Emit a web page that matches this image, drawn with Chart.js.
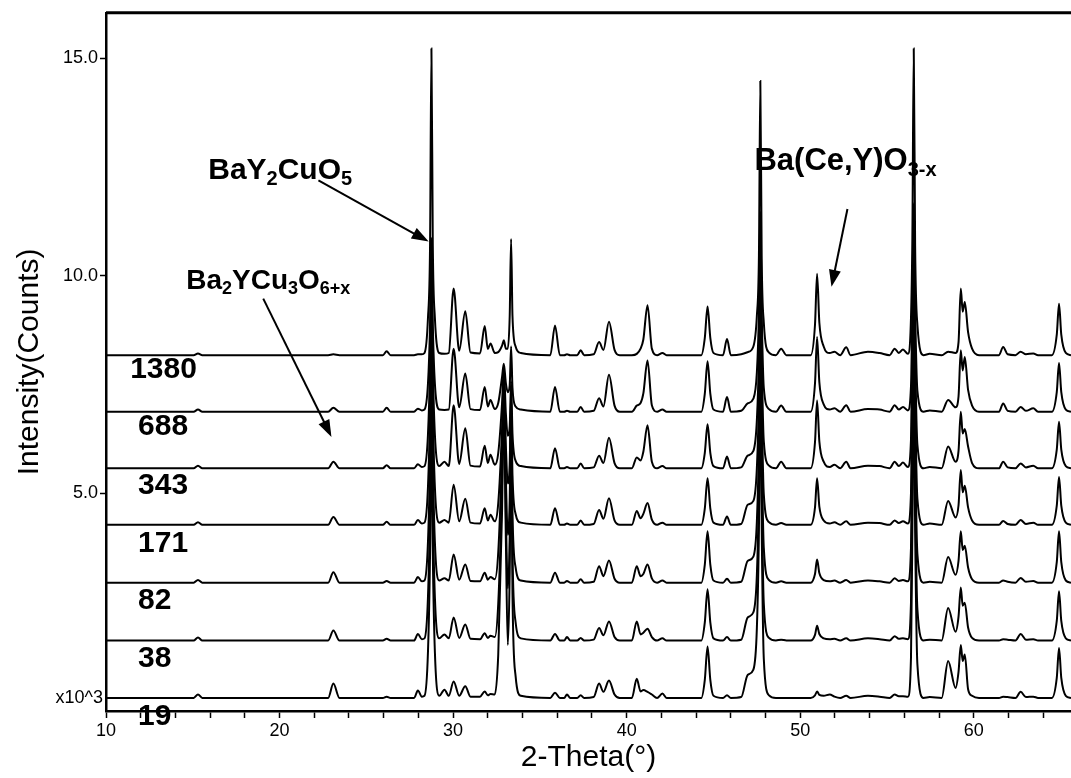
<!DOCTYPE html>
<html>
<head>
<meta charset="utf-8">
<script src="https://cdn.jsdelivr.net/npm/chart.js@4.4.1/dist/chart.umd.min.js"></script>
<style>
  body { margin: 0; background: #fff; }
  #wrap { width: 1071px; height: 778px; }
</style>
</head>
<body>
<div id="wrap"><canvas id="xrd"></canvas></div>
<script>
// 2-theta positions (deg) shared by all scans
const angles = [
  10.0, 15.05, 15.3, 15.55, 22.8, 23.1, 23.45, 25.95, 26.17, 26.4,
  27.75, 27.97, 28.2, 28.35, 28.55, 28.67, 28.75, 28.83, 28.95, 29.2,
  29.5, 29.75, 30.03, 30.35, 30.7, 31.0, 31.55, 31.82, 32.0, 32.15, 32.4,
  32.6, 32.82, 32.92, 33.04, 33.15, 33.26, 33.34, 33.42, 33.6, 33.9,
  35.6, 35.87, 36.15, 36.4, 36.56, 36.75, 37.15, 37.35, 37.55, 38.1,
  38.41, 38.66, 38.98, 39.3, 39.6, 40.3, 40.58, 40.8, 40.96, 41.2, 41.45, 41.75, 42.06, 42.3,
  44.3, 44.5, 44.66, 44.82, 45.0, 45.55, 45.78, 46.0,
  46.6, 46.97, 47.3, 47.5, 47.62, 47.7, 47.78, 47.9, 48.2, 48.6, 48.9, 49.2,
  50.6, 50.85, 50.97, 51.1, 51.35, 51.7, 51.97, 52.3, 52.65, 52.9, 53.9, 54.57, 55.15, 55.44, 55.68, 55.92,
  56.2, 56.38, 56.46, 56.54, 56.62, 56.75, 57.1, 57.46,
  58.15, 58.52, 58.95, 59.12, 59.25, 59.36, 59.48, 59.67, 59.9, 60.3,
  61.45, 61.69, 61.95, 62.4, 62.7, 63.0, 63.43, 63.7, 64.5, 64.78, 64.91, 65.04, 65.3, 65.6
];

// intensity above each scan's own baseline (x10^3 counts)
const h19 = [
  0, 0, 0.08, 0, 0, 0.33, 0, 0, 0.03, 0,
  0, 0.17, 0.03, 0.05, 1.05, 3.3, 6.6, 3.3, 1.05, 0.05,
  0.19, 0.05, 0.38, 0.05, 0.27, 0.03, 0.03, 0.15, 0.06, 0.09, 0.08,
  1.0, 4.3, 6.8, 3.6, 1.22, 2.9, 6.4, 2.4, 0.5, 0.05,
  0, 0.12, 0, 0, 0.08, 0, 0, 0.06, 0, 0.02,
  0.33, 0.14, 0.4, 0.08, 0, 0, 0.44, 0.15, 0.18, 0.14, 0.08, 0, 0.1, 0,
  0, 0.41, 1.18, 0.41, 0.05, 0, 0.06, 0,
  0.02, 0.53, 0.65, 1.6, 3.9, 7.8, 3.9, 0.9, 0.06, 0, 0, 0,
  0, 0.06, 0.15, 0.07, 0.05, 0.08, 0.03, 0, 0.05, 0, 0.05, 0.03, 0, 0.08, 0.04, 0.04,
  0.03, 0.92, 3.85, 7.7, 3.85, 0.77, 0, 0.02,
  0, 0.85, 0.23, 0.6, 1.22, 0.85, 1.0, 0.2, 0.05, 0,
  0, 0.03, 0.02, 0, 0.14, 0.02, 0.03, 0, 0, 0.46, 1.15, 0.46, 0.05, 0
];
const h38 = [
  0, 0, 0.07, 0, 0, 0.23, 0, 0, 0.04, 0,
  0, 0.15, 0.03, 0.05, 0.99, 3.1, 6.2, 3.1, 0.99, 0.05,
  0.14, 0.05, 0.53, 0.06, 0.37, 0.04, 0.03, 0.17, 0.06, 0.11, 0.08,
  0.85, 3.6, 5.6, 2.9, 1.2, 2.4, 5.2, 2.0, 0.42, 0.05,
  0, 0.15, 0, 0, 0.08, 0, 0, 0.06, 0, 0.02,
  0.29, 0.12, 0.44, 0.08, 0, 0, 0.44, 0.14, 0.18, 0.27, 0.08, 0, 0.05, 0,
  0, 0.41, 1.18, 0.41, 0.05, 0, 0.08, 0,
  0.02, 0.53, 0.65, 1.5, 3.6, 7.2, 3.6, 0.85, 0.06, 0, 0.02, 0,
  0, 0.13, 0.34, 0.15, 0.05, 0.03, 0.04, 0, 0.05, 0, 0.05, 0.03, 0, 0.1, 0.04, 0.05,
  0.03, 0.86, 3.6, 7.2, 3.6, 0.72, 0, 0.02,
  0, 0.75, 0.2, 0.55, 1.22, 0.8, 0.87, 0.3, 0.06, 0,
  0, 0.03, 0.02, 0, 0.15, 0.02, 0.03, 0, 0, 0.45, 1.13, 0.45, 0.05, 0
];
const h82 = [
  0, 0, 0.06, 0, 0, 0.24, 0, 0, 0.04, 0,
  0, 0.13, 0.03, 0.05, 0.93, 2.9, 5.8, 2.9, 0.93, 0.05,
  0.1, 0.05, 0.65, 0.07, 0.42, 0.04, 0.03, 0.23, 0.07, 0.13, 0.08,
  0.7, 3.0, 4.6, 2.4, 1.1, 1.9, 4.2, 1.6, 0.35, 0.05,
  0, 0.23, 0, 0, 0.04, 0, 0, 0.08, 0, 0.02,
  0.38, 0.15, 0.51, 0.09, 0, 0, 0.38, 0.15, 0.2, 0.42, 0.1, 0, 0.05, 0,
  0, 0.41, 1.18, 0.41, 0.05, 0, 0.09, 0,
  0.02, 0.5, 0.6, 1.4, 3.3, 6.6, 3.3, 0.8, 0.06, 0, 0.03, 0,
  0, 0.2, 0.53, 0.22, 0.06, 0.03, 0.05, 0, 0.06, 0, 0.05, 0.03, 0, 0.1, 0.04, 0.06,
  0.03, 0.79, 3.3, 6.6, 3.3, 0.66, 0, 0.02,
  0, 0.59, 0.18, 0.5, 1.18, 0.75, 0.85, 0.35, 0.08, 0,
  0, 0.05, 0.02, 0, 0.11, 0.02, 0.04, 0, 0, 0.47, 1.18, 0.47, 0.05, 0
];
const h171 = [
  0, 0, 0.06, 0, 0, 0.18, 0, 0, 0.07, 0,
  0, 0.11, 0.03, 0.05, 0.86, 2.7, 5.4, 2.7, 0.86, 0.05,
  0.11, 0.05, 0.92, 0.08, 0.6, 0.05, 0.03, 0.38, 0.1, 0.23, 0.08,
  0.5, 2.2, 3.4, 1.8, 0.95, 1.4, 3.0, 1.15, 0.25, 0.05,
  0, 0.38, 0, 0, 0.03, 0, 0, 0.1, 0, 0.02,
  0.34, 0.14, 0.61, 0.1, 0, 0, 0.32, 0.15, 0.25, 0.5, 0.12, 0, 0.05, 0,
  0, 0.37, 1.07, 0.37, 0.05, 0, 0.19, 0,
  0.02, 0.46, 0.55, 1.3, 3.0, 6.0, 3.0, 0.7, 0.06, 0, 0.04, 0,
  0, 0.4, 1.07, 0.42, 0.1, 0.03, 0.06, 0, 0.08, 0, 0.05, 0.04, 0, 0.1, 0.04, 0.08,
  0.03, 0.72, 3.0, 6.0, 3.0, 0.6, 0, 0.03,
  0, 0.55, 0.17, 0.45, 1.26, 0.75, 0.9, 0.4, 0.1, 0,
  0, 0.09, 0.02, 0, 0.11, 0.02, 0.05, 0, 0, 0.44, 1.1, 0.44, 0.05, 0
];
const h343 = [
  0, 0, 0.06, 0, 0, 0.15, 0, 0, 0.07, 0,
  0, 0.09, 0.03, 0.05, 0.77, 2.4, 4.8, 2.4, 0.77, 0.05,
  0.15, 0.05, 1.45, 0.1, 0.92, 0.06, 0.04, 0.52, 0.12, 0.31, 0.08,
  0.35, 1.5, 2.3, 1.25, 0.75, 0.95, 2.0, 0.8, 0.17, 0.05,
  0, 0.46, 0, 0, 0.03, 0, 0, 0.11, 0, 0.02,
  0.29, 0.12, 0.7, 0.12, 0, 0, 0.25, 0.18, 0.38, 0.99, 0.15, 0, 0.05, 0,
  0, 0.35, 1.01, 0.35, 0.05, 0, 0.27, 0,
  0.02, 0.29, 0.4, 1.1, 2.65, 5.3, 2.65, 0.62, 0.06, 0, 0.15, 0,
  0, 0.6, 1.56, 0.62, 0.15, 0.03, 0.08, 0, 0.15, 0, 0.06, 0.05, 0, 0.15, 0.05, 0.13,
  0.03, 0.65, 2.7, 5.4, 2.7, 0.54, 0, 0.03,
  0, 0.5, 0.15, 0.4, 1.3, 0.8, 0.9, 0.5, 0.12, 0,
  0, 0.15, 0.02, 0, 0.11, 0.02, 0.06, 0, 0, 0.43, 1.07, 0.43, 0.05, 0
];
const h688 = [
  0, 0, 0.05, 0, 0, 0.09, 0, 0, 0.09, 0,
  0, 0.07, 0.03, 0.05, 0.64, 2.0, 4.0, 2.0, 0.64, 0.05,
  0.04, 0.05, 1.45, 0.1, 0.88, 0.06, 0.04, 0.57, 0.12, 0.27, 0.06,
  0.2, 0.8, 1.1, 0.65, 0.45, 0.6, 1.5, 0.55, 0.12, 0.05,
  0, 0.57, 0, 0, 0.02, 0, 0, 0.11, 0, 0.02,
  0.31, 0.12, 0.85, 0.14, 0, 0, 0.14, 0.2, 0.42, 1.18, 0.15, 0, 0.05, 0,
  0, 0.41, 1.16, 0.41, 0.05, 0, 0.34, 0,
  0.02, 0.19, 0.3, 0.9, 2.3, 4.6, 2.3, 0.55, 0.06, 0, 0.14, 0,
  0, 0.65, 1.72, 0.68, 0.17, 0.05, 0.08, 0, 0.15, 0, 0.06, 0.05, 0, 0.15, 0.05, 0.11,
  0.03, 0.58, 2.4, 4.8, 2.4, 0.48, 0, 0.03,
  0, 0.27, 0.1, 0.35, 1.41, 0.95, 1.26, 0.5, 0.14, 0,
  0, 0.19, 0.02, 0, 0.11, 0.02, 0.08, 0, 0, 0.45, 1.12, 0.45, 0.05, 0
];
const h1380 = [
  0, 0, 0.04, 0, 0, 0.02, 0, 0, 0.09, 0,
  0, 0.02, 0.02, 0.05, 0.85, 2.5, 7.05, 2.5, 0.85, 0.05,
  0.03, 0.05, 1.53, 0.1, 1.01, 0.06, 0.04, 0.67, 0.14, 0.27, 0.05,
  0.07, 0.22, 0.34, 0.15, 0.15, 0.9, 2.67, 0.9, 0.2, 0.05,
  0, 0.68, 0, 0, 0.02, 0, 0, 0.11, 0, 0.02,
  0.3, 0.12, 0.77, 0.12, 0, 0, 0.03, 0.15, 0.36, 1.15, 0.15, 0, 0.05, 0,
  0, 0.39, 1.12, 0.39, 0.05, 0, 0.37, 0,
  0.02, 0.07, 0.2, 0.9, 2.3, 6.3, 2.2, 0.75, 0.06, 0, 0.15, 0,
  0, 0.7, 1.87, 0.75, 0.2, 0.05, 0.08, 0, 0.18, 0, 0.08, 0.05, 0, 0.15, 0.05, 0.13,
  0.03, 0.85, 2.7, 7.05, 2.5, 0.7, 0, 0.03,
  0, 0.08, 0.05, 0.3, 1.53, 1.0, 1.22, 0.53, 0.15, 0,
  0, 0.19, 0.02, 0, 0.08, 0.02, 0.04, 0, 0, 0.47, 1.18, 0.47, 0.05, 0
];

const sampleNames = ['19', '38', '82', '171', '343', '688', '1380'];
const offsets = [0.3, 1.62, 2.95, 4.28, 5.58, 6.88, 8.18];
const scans = [h19, h38, h82, h171, h343, h688, h1380];
const yTickValues = [5, 10, 15];
const xLabelValues = [10, 20, 30, 40, 50, 60];

const FONT = '"Liberation Sans", Arial, Helvetica, sans-serif';

// label placement in data units
const sampleLabelPos = [
  [11.85, -0.14], [11.85, 1.21], [11.85, 2.54], [11.85, 3.85],
  [11.85, 5.18], [11.85, 6.53], [11.39, 7.85]
];
const phaseLabels = [
  { parts: [['BaY', 0], ['2', 1], ['CuO', 0], ['5', 1]], x: 15.89, y: 12.23, size: 30,
    from: [22.24, 12.2], to: [28.59, 10.79] },
  { parts: [['Ba', 0], ['2', 1], ['YCu', 0], ['3', 1], ['O', 0], ['6+x', 1]], x: 14.62, y: 9.71, size: 28,
    from: [19.06, 9.48], to: [22.99, 6.3] },
  { parts: [['Ba(Ce,Y)O', 0], ['3-x', 1]], x: 47.36, y: 12.43, size: 31,
    from: [52.72, 11.54], to: [51.8, 9.75] }
];

function drawArrow(ctx, x1, y1, x2, y2) {
  const ang = Math.atan2(y2 - y1, x2 - x1);
  const len = 17, half = 6;
  ctx.beginPath();
  ctx.moveTo(x1, y1);
  ctx.lineTo(x2 - Math.cos(ang) * len * 0.8, y2 - Math.sin(ang) * len * 0.8);
  ctx.lineWidth = 2;
  ctx.stroke();
  ctx.beginPath();
  ctx.moveTo(x2, y2);
  ctx.lineTo(x2 - Math.cos(ang) * len + Math.sin(ang) * half, y2 - Math.sin(ang) * len - Math.cos(ang) * half);
  ctx.lineTo(x2 - Math.cos(ang) * len - Math.sin(ang) * half, y2 - Math.sin(ang) * len + Math.cos(ang) * half);
  ctx.closePath();
  ctx.fill();
}

const annotations = {
  id: 'annotations',
  afterDraw(chart) {
    const { ctx, chartArea, scales: { x, y } } = chart;
    ctx.save();
    ctx.fillStyle = '#000';
    ctx.strokeStyle = '#000';

    // frame top
    ctx.lineWidth = 3;
    ctx.beginPath();
    ctx.moveTo(chartArea.left, chartArea.top);
    ctx.lineTo(chartArea.right, chartArea.top);
    ctx.stroke();

    // exponent note
    ctx.font = '18px ' + FONT;
    ctx.textAlign = 'right';
    ctx.textBaseline = 'middle';
    ctx.fillText('x10^3', chartArea.left - 3, y.getPixelForValue(0.3));

    // scan labels
    ctx.textAlign = 'left';
    ctx.font = 'bold 30px ' + FONT;
    sampleNames.forEach((name, i) => {
      const [lx, ly] = sampleLabelPos[i];
      ctx.fillText(name, x.getPixelForValue(lx), y.getPixelForValue(ly));
    });

    // phase labels with subscripts
    ctx.textBaseline = 'alphabetic';
    phaseLabels.forEach(lab => {
      let cx = x.getPixelForValue(lab.x);
      const by = y.getPixelForValue(lab.y);
      lab.parts.forEach(([t, sub]) => {
        const fs = sub ? Math.round(lab.size * 0.66) : lab.size;
        ctx.font = 'bold ' + fs + 'px ' + FONT;
        ctx.fillText(t, cx, by + (sub ? lab.size * 0.2 : 0));
        cx += ctx.measureText(t).width;
      });
      drawArrow(ctx,
        x.getPixelForValue(lab.from[0]), y.getPixelForValue(lab.from[1]),
        x.getPixelForValue(lab.to[0]), y.getPixelForValue(lab.to[1]));
    });
    ctx.restore();
  }
};

const datasets = scans.map((hs, i) => ({
  label: sampleNames[i],
  data: angles.map((a, k) => ({ x: a, y: offsets[i] + hs[k] })),
  borderColor: '#000',
  borderWidth: 2,
  pointRadius: 0,
  cubicInterpolationMode: 'monotone',
  fill: false
}));

new Chart(document.getElementById('xrd'), {
  type: 'line',
  data: { datasets },
  options: {
    responsive: true,
    maintainAspectRatio: false,
    animation: false,
    layout: { padding: { top: 10, right: 0, left: 0, bottom: 0 } },
    plugins: { legend: { display: false }, tooltip: { enabled: false } },
    scales: {
      x: {
        type: 'linear',
        min: 10,
        max: 65.6,
        afterFit: s => { s.height = 67; },
        afterBuildTicks: s => {
          const t = [];
          for (let v = 10; v <= 64; v += 2) t.push({ value: v });
          s.ticks = t;
        },
        border: { color: '#000', width: 2.5 },
        grid: { drawOnChartArea: false, color: '#000', tickLength: 7, tickWidth: 1.5 },
        ticks: {
          color: '#000',
          autoSkip: false,
          maxRotation: 0,
          padding: 2,
          font: { size: 18, family: FONT },
          callback: v => xLabelValues.includes(v) ? String(v) : ''
        },
        title: {
          display: true,
          text: '2-Theta(°)',
          color: '#000',
          font: { size: 30, family: FONT },
          padding: { top: 0, bottom: 2 }
        }
      },
      y: {
        type: 'linear',
        min: 0,
        max: 16.05,
        afterFit: s => { s.width = 106; },
        afterBuildTicks: s => { s.ticks = yTickValues.map(v => ({ value: v })); },
        border: { color: '#000', width: 2.5 },
        grid: { drawOnChartArea: false, color: '#000', tickLength: 6, tickWidth: 1.5 },
        ticks: {
          color: '#000',
          padding: 2,
          font: { size: 18, family: FONT },
          callback: v => v.toFixed(1)
        },
        title: {
          display: true,
          text: 'Intensity(Counts)',
          color: '#000',
          font: { size: 30, family: FONT },
          padding: { top: 12, bottom: 0 }
        }
      }
    }
  },
  plugins: [annotations]
});
</script>
</body>
</html>
